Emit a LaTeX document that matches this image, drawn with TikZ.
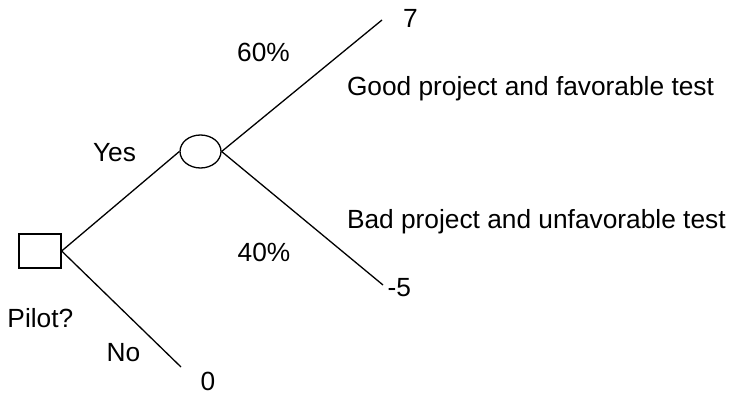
\documentclass[tikz,border=0pt]{standalone}
\usepackage{fontspec}
\setmainfont{Liberation Sans}
\usetikzlibrary{shapes.geometric}
\begin{document}
\begin{tikzpicture}[x=1pt,y=-1pt,
  lbl/.style={inner sep=0pt,outer sep=0pt,font=\fontsize{26.3}{31}\selectfont},
  decision/.style={draw,line width=1.3pt,rectangle,minimum width=42pt,minimum height=34pt,inner sep=0pt},
  chance/.style={draw,line width=1.3pt,ellipse,minimum width=41pt,minimum height=33pt,inner sep=0pt},
  branch/.style={line width=1.3pt}]
\useasboundingbox (0,0) rectangle (737,398);
\node[decision] (sq) at (40,251) {};
\node[chance] (ch) at (200.5,151.5) {};
\coordinate (e7) at (382,20);
\coordinate (e5) at (383,285);
\coordinate (e0) at (181,367);
\draw[branch] (sq.east) -- (ch.west);
\draw[branch] (ch.east) -- (e7);
\draw[branch] (ch.east) -- (e5);
\draw[branch] (sq.east) -- (e0);
\node[lbl,anchor=base west] (t7) at (403,28) {7};
\node[lbl,anchor=base] (p60) at (263.5,62) {60\%};
\node[lbl,anchor=base west] (good) at (347,96) {Good project and favorable test};
\node[lbl,anchor=base] (yes) at (114.5,162) {Yes};
\node[lbl,anchor=base west] (bad) at (347,229) {Bad project and unfavorable test};
\node[lbl,anchor=base] (p40) at (264,262) {40\%};
\node[lbl,anchor=base west] (t5) at (387.5,297) {-5};
\node[lbl,anchor=base west] (pilot) at (7.5,328) {Pilot?};
\node[lbl,anchor=base] (no) at (123.5,361) {No};
\node[lbl,anchor=base] (t0) at (208,390) {0};
\end{tikzpicture}
\end{document}
